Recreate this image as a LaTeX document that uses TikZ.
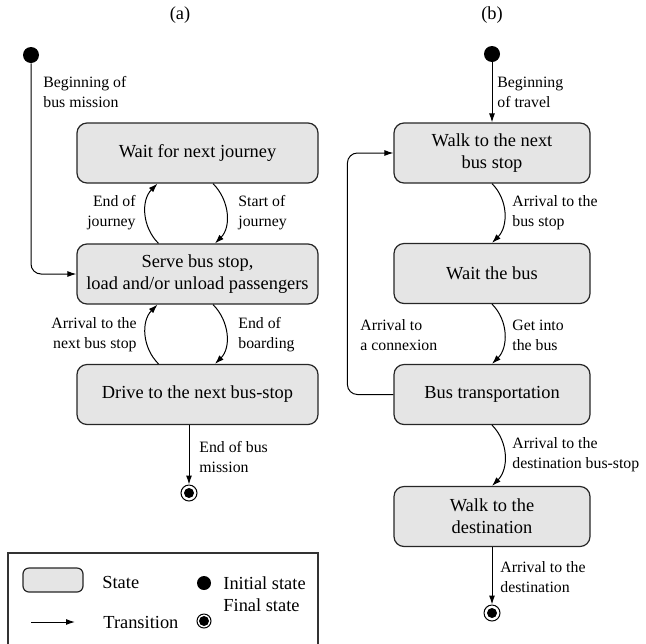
\documentclass[tikz,border=0pt]{standalone}
\usepackage{fontspec}
\setmainfont{Liberation Serif}
\usetikzlibrary{arrows.meta, positioning, calc}

\begin{document}
\begin{tikzpicture}[
    x=0.5pt, y=-0.5pt,
    state/.style={
        rectangle,
        rounded corners=5pt,
        draw=black!85,
        line width=0.6pt,
        fill=black!10,
        minimum height=30pt,
        align=center,
        font=\fontsize{9.2}{11}\selectfont
    },
    lstate/.style={state, minimum width=120.5pt},
    rstate/.style={state, minimum width=98pt},
    startdot/.style={circle, fill=black, inner sep=0pt, minimum size=8pt},
    enddot/.style={
        circle,
        draw=black,
        line width=0.5pt,
        inner sep=0pt,
        minimum size=8pt,
        path picture={\fill (path picture bounding box.center) circle (2.5pt);}
    },
    trans/.style={-{Latex[length=4.5pt,width=3pt]}, line width=0.5pt},
    lbl/.style={font=\fontsize{7.9}{10}\selectfont, inner sep=0pt, align=left, anchor=west},
    lblr/.style={lbl, align=right, anchor=east},
    keytext/.style={font=\fontsize{9.2}{11}\selectfont, inner sep=0pt, anchor=west}
]
    \useasboundingbox (0,0) rectangle (646,643);

    % (a) bus states
    \node[font=\fontsize{9.2}{11}\selectfont] (capa) at (180,15) {(a)};
    \node[startdot] (busstart) at (31,55) {};
    \node[lstate] (waitjourney) at (197.5,153) {Wait for next journey};
    \node[lstate] (servestop) at (197.5,274) {Serve bus stop,\\load and/or unload passengers};
    \node[lstate] (drive) at (197.5,394.5) {Drive to the next bus-stop};
    \node[enddot] (busend) at (189,493) {};

    \draw[trans, rounded corners=5pt] (busstart) |- (servestop.west);
    \node[lbl] (lbusstart) at (43,92) {Beginning of\\bus mission};

    \draw[trans] ($(servestop.north)+(-39,0)$) to[out=135,in=-135] ($(waitjourney.south)+(-40,0)$);
    \draw[trans] ($(waitjourney.south)+(15.5,0)$) to[out=-45,in=45] ($(servestop.north)+(17.5,0)$);
    \node[lblr] (lendjourney) at (136,213) {End of\\journey};
    \node[lbl] (lstartjourney) at (238,213) {Start of\\journey};

    \draw[trans] ($(drive.north)+(-39,0)$) to[out=135,in=-135] ($(servestop.south)+(-40,0)$);
    \draw[trans] ($(servestop.south)+(15.5,0)$) to[out=-45,in=45] ($(drive.north)+(17.5,0)$);
    \node[lblr] (lnextstop) at (137,335) {Arrival to the\\next bus stop};
    \node[lbl] (lboarding) at (238,335) {End of\\boarding};

    \draw[trans] ($(drive.south)+(-8.5,0)$) -- (busend);
    \node[lbl] (lbusend) at (199,457) {End of bus\\mission};

    % (b) traveller states
    \node[font=\fontsize{9.2}{11}\selectfont] (capb) at (492,15) {(b)};
    \node[startdot] (travelstart) at (492,54) {};
    \node[rstate] (walkstop) at (492,153) {Walk to the next\\bus stop};
    \node[rstate] (waitbus) at (492,273.5) {Wait the bus};
    \node[rstate] (bustransport) at (492,394.5) {Bus transportation};
    \node[rstate] (walkdest) at (492,516.5) {Walk to the\\destination};
    \node[enddot] (travelend) at (492,613) {};

    \draw[trans] (travelstart) -- (walkstop);
    \node[lbl] (ltravelstart) at (497,92) {Beginning\\of travel};
    \draw[trans] (walkstop.south) to[out=-45,in=45] (waitbus.north);
    \node[lbl] (lbusstop) at (512,213) {Arrival to the\\bus stop};
    \draw[trans] (waitbus.south) to[out=-45,in=45] (bustransport.north);
    \node[lbl] (lgetinto) at (512,335) {Get into\\the bus};
    \draw[trans, rounded corners=5pt] (bustransport.west) -- ++(-46,0) |- (walkstop.west);
    \node[lbl] (lconnexion) at (360,335) {Arrival to\\a connexion};
    \draw[trans] (bustransport.south) to[out=-45,in=45] (walkdest.north);
    \node[lbl] (ldeststop) at (512,455) {Arrival to the\\destination bus-stop};
    \draw[trans] (walkdest) -- (travelend);
    \node[lbl] (ldest) at (500,577) {Arrival to the\\destination};

    % Legend
    \draw[line width=0.6pt, draw=black!80] (8,553) rectangle (318,670);
    \node[state, minimum width=30pt, minimum height=12pt, rounded corners=3pt] (keystate) at (53,580) {};
    \node[keytext] (lkeystate) at (102,582) {State};
    \node[startdot, minimum size=7pt] (keystart) at (204,583) {};
    \node[keytext] (lkeystart) at (223,583) {Initial state};
    \node[keytext] (lkeyend) at (223,605) {Final state};
    \coordinate (keyfrom) at (31,622);
    \coordinate (keyto) at (75,622);
    \draw[trans] (keyfrom) -- (keyto);
    \node[keytext] (lkeytrans) at (103,622) {Transition};
    \node[enddot, minimum size=7pt] (keyend) at (204,621) {};
\end{tikzpicture}
\end{document}
